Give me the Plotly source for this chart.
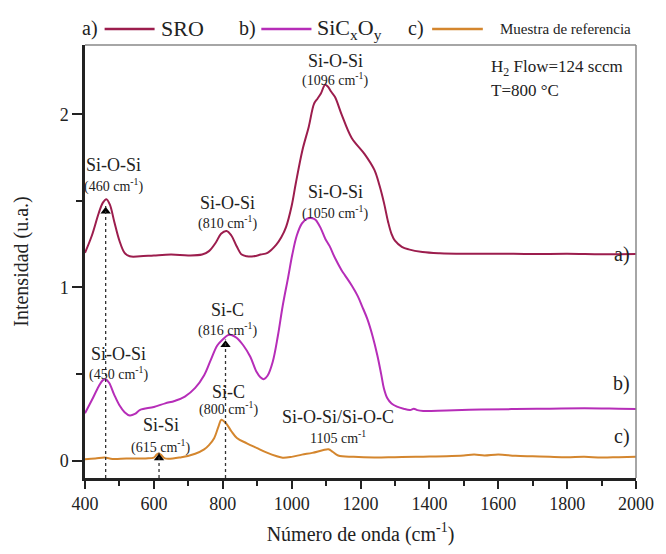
import plotly.graph_objects as go

# ---------------- data ----------------
sro_x = [400, 420, 440, 452, 462, 472, 485, 500, 515, 530, 560, 600, 650, 700, 740, 760, 780, 795, 811,
         825, 840, 855, 870, 890, 910, 930, 955, 970, 984, 1000, 1012, 1031, 1050, 1065, 1075, 1085, 1097,
         1105, 1115, 1126, 1145, 1174, 1212, 1240, 1255, 1268, 1280, 1290, 1300, 1320, 1340, 1380, 1430,
         1500, 1600, 1700, 1800, 1900, 2000]
sro_y = [1.20, 1.30, 1.43, 1.49, 1.51, 1.48, 1.38, 1.27, 1.20, 1.18, 1.18, 1.185, 1.19, 1.185, 1.19, 1.21,
         1.26, 1.31, 1.326, 1.30, 1.24, 1.19, 1.18, 1.18, 1.19, 1.20, 1.246, 1.29, 1.35, 1.47, 1.60, 1.79,
         1.93, 2.06, 2.09, 2.12, 2.17, 2.16, 2.13, 2.10, 2.00, 1.865, 1.77, 1.68, 1.59, 1.49, 1.38, 1.31,
         1.27, 1.235, 1.22, 1.205, 1.198, 1.195, 1.195, 1.193, 1.195, 1.192, 1.193]

sico_x = [400, 420, 440, 452, 460, 470, 485, 500, 515, 530, 545, 560, 600, 633, 660, 690, 720, 746, 765,
          784, 800, 815, 825, 840, 860, 880, 898, 910, 919, 930, 945, 960, 974, 990, 1002, 1015, 1030, 1045,
          1060, 1070, 1085, 1098, 1110, 1126, 1145, 1155, 1175, 1192, 1205, 1220, 1235, 1249, 1260, 1268,
          1278, 1290, 1306, 1325, 1344, 1355, 1365, 1382, 1450, 1550, 1650, 1750, 1850, 1950, 2000]
sico_y = [0.274, 0.35, 0.43, 0.465, 0.47, 0.45, 0.38, 0.32, 0.28, 0.261, 0.27, 0.293, 0.31, 0.331, 0.345,
          0.37, 0.42, 0.493, 0.58, 0.665, 0.70, 0.725, 0.726, 0.71, 0.665, 0.60, 0.513, 0.48, 0.47, 0.49,
          0.57, 0.72, 0.893, 1.06, 1.19, 1.30, 1.37, 1.398, 1.40, 1.39, 1.34, 1.28, 1.24, 1.17, 1.10, 1.07,
          1.01, 0.95, 0.89, 0.817, 0.72, 0.607, 0.50, 0.417, 0.36, 0.33, 0.312, 0.30, 0.293, 0.30, 0.292,
          0.287, 0.29, 0.295, 0.298, 0.30, 0.302, 0.30, 0.299]

ref_x = [400, 430, 457, 480, 520, 576, 600, 608, 614, 620, 632, 680, 720, 746, 760, 775, 788, 796, 805,
         813, 825, 841, 870, 898, 930, 955, 974, 1000, 1030, 1060, 1090, 1107, 1120, 1135, 1180, 1240,
         1300, 1360, 1400, 1450, 1500, 1530, 1560, 1600, 1650, 1700, 1750, 1800, 1850, 1900, 1950, 2000]
ref_y = [0.008, 0.012, 0.018, 0.01, 0.012, 0.013, 0.018, 0.035, 0.042, 0.035, 0.013, 0.02, 0.04, 0.065,
         0.09, 0.13, 0.20, 0.236, 0.225, 0.207, 0.17, 0.131, 0.10, 0.074, 0.045, 0.027, 0.017, 0.022, 0.035,
         0.045, 0.06, 0.066, 0.05, 0.03, 0.022, 0.018, 0.02, 0.022, 0.024, 0.026, 0.03, 0.035, 0.03, 0.036,
         0.028, 0.025, 0.022, 0.02, 0.022, 0.018, 0.02, 0.022]

series_names = ["SRO", "SiC<sub>x</sub>O<sub>y</sub>", "Muestra de referencia"]
series_tags = ["a)", "b)", "c)"]
series_colors = ["#9c1d4d", "#b62db8", "#d4862e"]

# dotted markers: x position and arrow tip value
marker_x = [460, 615, 808]
marker_tip = [1.47, 0.046, 0.70]

# peak labels: (x, y of name, y of wavenumber, name, wavenumber text)
label_x = [482, 813, 1126, 1126, 496, 813, 818, 620, 1135]
label_name_y = [1.71, 1.49, 2.31, 1.55, 0.615, 0.87, 0.395, 0.205, 0.25]
label_wn_y = [1.59, 1.375, 2.20, 1.435, 0.505, 0.755, 0.30, 0.08, 0.138]
label_names = ["Si-O-Si", "Si-O-Si", "Si-O-Si", "Si-O-Si", "Si-O-Si", "Si-C", "Si-C", "Si-Si",
               "Si-O-Si/Si-O-C"]
label_wn = ["(460 cm<sup>-1</sup>)", "(810 cm<sup>-1</sup>)", "(1096 cm<sup>-1</sup>)",
            "(1050 cm<sup>-1</sup>)", "(450 cm<sup>-1</sup>)", "(816 cm<sup>-1</sup>)",
            "(800 cm<sup>-1</sup>)", "(615 cm<sup>-1</sup>)", "1105 cm<sup>-1</sup>"]

curve_tag_x = 1958
curve_tag_y = [1.19, 0.446, 0.137]

x_ticks = [400, 600, 800, 1000, 1200, 1400, 1600, 1800, 2000]
y_ticks = [0, 1, 2]

FONT = "Liberation Serif, Times New Roman, Times, serif"
TXT = "#222222"

fig = go.Figure()
for xs, ys, nm, col in zip([sro_x, sico_x, ref_x], [sro_y, sico_y, ref_y], series_names, series_colors):
    fig.add_trace(go.Scatter(x=xs, y=ys, mode="lines", name=nm, line=dict(color=col, width=2),
                             showlegend=False, line_shape="spline"))

# dotted vertical guides
for mx, mt in zip(marker_x, marker_tip):
    fig.add_shape(type="line", x0=mx, x1=mx, y0=-0.1, y1=mt, xref="x", yref="y",
                  line=dict(color="#333333", width=1.3, dash="dot"))
fig.add_trace(go.Scatter(x=marker_x, y=[t - 0.03 for t in marker_tip], mode="markers",
                         marker=dict(symbol="triangle-up", size=9, color="black"),
                         showlegend=False, hoverinfo="skip"))

# peak labels
for lx, ny, wy, nm, wn in zip(label_x, label_name_y, label_wn_y, label_names, label_wn):
    fig.add_annotation(x=lx, y=ny, text=nm, showarrow=False, xref="x", yref="y",
                       font=dict(family=FONT, size=18, color=TXT))
    fig.add_annotation(x=lx, y=wy, text=wn, showarrow=False, xref="x", yref="y",
                       font=dict(family=FONT, size=14, color=TXT))

for tg, ty in zip(series_tags, curve_tag_y):
    fig.add_annotation(x=curve_tag_x, y=ty, text=tg, showarrow=False, xref="x", yref="y",
                       font=dict(family=FONT, size=20, color=TXT))

fig.add_annotation(x=1573, y=2.27, text="H<sub>2</sub> Flow=124 sccm", showarrow=False,
                   xanchor="left", xref="x", yref="y", font=dict(family=FONT, size=17, color=TXT))
fig.add_annotation(x=1573, y=2.14, text="T=800 °C", showarrow=False,
                   xanchor="left", xref="x", yref="y", font=dict(family=FONT, size=17, color=TXT))

# manual legend in paper coords
leg_y = 1.037
tag_pos = [0.009, 0.295, 0.60]
line_pos = [(0.0356, 0.1263), (0.320, 0.411), (0.630, 0.722)]
name_pos = [0.135, 0.418, 0.749]
name_size = [22, 22, 15]
for tg, tp, (l0, l1), npos, nm, col, ns in zip(series_tags, tag_pos, line_pos, name_pos,
                                              series_names, series_colors, name_size):
    fig.add_annotation(x=tp, y=leg_y, xref="paper", yref="paper", text=tg, showarrow=False,
                       xanchor="center", yanchor="middle", font=dict(family=FONT, size=20, color=TXT))
    fig.add_shape(type="line", x0=l0, x1=l1, y0=leg_y, y1=leg_y, xref="paper", yref="paper",
                  line=dict(color=col, width=2.5))
    fig.add_annotation(x=npos, y=leg_y, xref="paper", yref="paper", text=nm, showarrow=False,
                       xanchor="left", yanchor="middle", font=dict(family=FONT, size=ns, color=TXT))

# top and right frame lines
fig.add_shape(type="line", x0=0, x1=1, y0=1, y1=1, xref="paper", yref="paper",
              line=dict(color="#888888", width=1.5))
fig.add_shape(type="line", x0=1, x1=1, y0=0, y1=1, xref="paper", yref="paper",
              line=dict(color="#888888", width=1.5))

fig.update_layout(
    width=666, height=554,
    margin=dict(l=85, r=19, t=45, b=73),
    plot_bgcolor="white", paper_bgcolor="white",
    font=dict(family=FONT, color=TXT),
    xaxis=dict(range=[400, 2000], tickvals=x_ticks, ticks="outside", ticklen=8, tickwidth=2,
               tickcolor="#222", showline=True, linewidth=2.5, linecolor="#222", showgrid=False,
               zeroline=False, tickfont=dict(family=FONT, size=18, color=TXT),
               minor=dict(dtick=100, tick0=400, ticks="outside", ticklen=5, tickwidth=2,
                          tickcolor="#222", showgrid=False),
               title=dict(text="Número de onda (cm<sup>-1</sup>)", standoff=14,
                          font=dict(family=FONT, size=20, color=TXT))),
    yaxis=dict(range=[-0.1, 2.4], tickvals=y_ticks, ticks="outside", ticklen=10, tickwidth=2,
               tickcolor="#222", showline=True, linewidth=2.5, linecolor="#222", showgrid=False,
               zeroline=False, tickfont=dict(family=FONT, size=18, color=TXT),
               minor=dict(dtick=0.5, tick0=0, ticks="outside", ticklen=6, tickwidth=2,
                          tickcolor="#222", showgrid=False),
               title=dict(text="Intensidad (u.a.)", standoff=26,
                          font=dict(family=FONT, size=20, color=TXT))),
)

fig.write_html("out.html")
